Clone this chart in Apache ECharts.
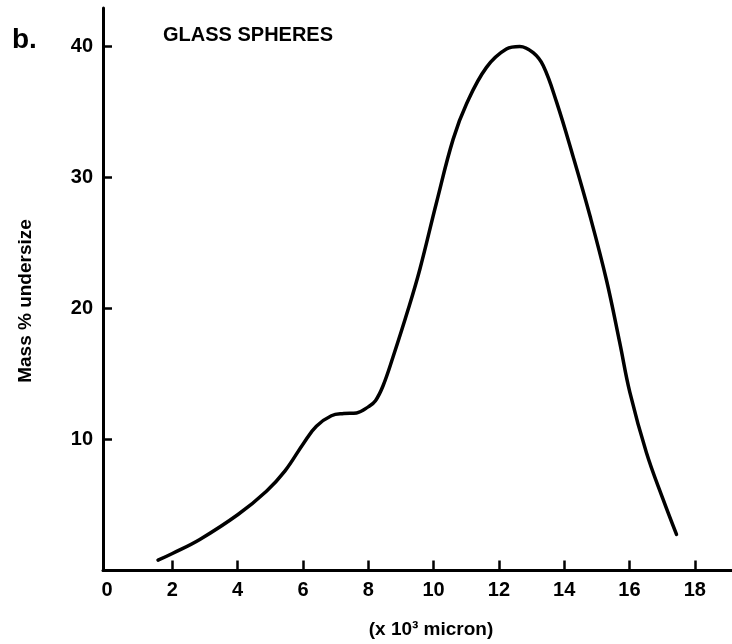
<!DOCTYPE html>
<html>
<head>
<meta charset="utf-8">
<script src="https://cdn.jsdelivr.net/npm/echarts@6/dist/echarts.min.js"></script>
<style>
  html, body { margin: 0; padding: 0; background: #fff; }
  #chart { width: 732px; height: 644px; }
</style>
</head>
<body>
<div id="chart"></div>
<script>
// Particle size (x 10^3 micron) and mass % undersize for the glass spheres sample
var sizeValues = [1.56, 2.0, 2.84, 4.01, 4.88, 5.45, 6.03, 6.41, 6.87, 7.25, 7.64, 8.01, 8.22, 8.45, 8.76, 9.22, 9.58, 10.09, 10.6, 11.01, 11.62, 12.23, 12.64, 13.05, 13.36, 13.77, 14.27, 14.79, 15.3, 15.7, 16.01, 16.52, 17.03, 17.44];
var massValues = [0.79, 1.30, 2.37, 4.27, 6.05, 7.6, 9.75, 11.0, 11.8, 11.97, 12.02, 12.5, 12.95, 14.07, 16.3, 19.9, 22.98, 28.07, 32.9, 35.6, 38.37, 39.77, 39.97, 39.5, 38.5, 35.7, 31.6, 27.05, 22.1, 17.4, 13.6, 8.98, 5.42, 2.75];

// Axis tick marks and labels
var xTickValues = [2, 4, 6, 8, 10, 12, 14, 16, 18];
var xLabelValues = [0, 2, 4, 6, 8, 10, 12, 14, 16, 18];
var yTickValues = [10, 20, 30, 40];

var panelLabel = 'b.';
var sampleTitle = 'GLASS SPHERES';
var yAxisTitle = 'Mass % undersize';
var xAxisTitle = '(x 10\u00B3 micron)';

var FONT = '"Liberation Sans", Arial, sans-serif';

var curve = sizeValues.map(function (x, i) { return [x, massValues[i]]; });

var chart = echarts.init(document.getElementById('chart'), null, { renderer: 'canvas' });

chart.setOption({
  backgroundColor: '#ffffff',
  animation: false,
  grid: { left: 103, right: 0, top: 8, bottom: 73.5, containLabel: false },
  xAxis: {
    type: 'value',
    min: -0.125,
    max: 19.14,
    axisLine: { show: true, onZero: false, lineStyle: { color: '#000', width: 3 } },
    axisTick: { show: true, inside: true, length: 10, customValues: xTickValues,
      lineStyle: { color: '#000', width: 2.5 } },
    axisLabel: { show: true, customValues: xLabelValues, margin: 10, color: '#000',
      fontFamily: FONT, fontWeight: 'bold', fontSize: 20 },
    splitLine: { show: false }
  },
  yAxis: {
    type: 'value',
    min: 0,
    max: 42.9,
    axisLine: { show: true, onZero: false, lineStyle: { color: '#000', width: 3 } },
    axisTick: { show: true, inside: true, length: 9, customValues: yTickValues,
      lineStyle: { color: '#000', width: 2.5 } },
    axisLabel: { show: true, customValues: yTickValues, margin: 10, color: '#000',
      fontFamily: FONT, fontWeight: 'bold', fontSize: 20 },
    splitLine: { show: false }
  },
  graphic: [
    { type: 'text', x: 12, y: 40, style: { text: panelLabel, fill: '#000',
        font: 'bold 28px ' + FONT, textAlign: 'left', textVerticalAlign: 'middle' } },
    { type: 'text', x: 163, y: 35, style: { text: sampleTitle, fill: '#000',
        font: 'bold 20px ' + FONT, textAlign: 'left', textVerticalAlign: 'middle' } },
    { type: 'text', x: 26, y: 301, rotation: Math.PI / 2, style: { text: yAxisTitle, fill: '#000',
        font: 'bold 19px ' + FONT, textAlign: 'center', textVerticalAlign: 'middle' } },
    { type: 'text', x: 431, y: 630, style: { text: xAxisTitle, fill: '#000',
        font: 'bold 19px ' + FONT, textAlign: 'center', textVerticalAlign: 'middle' } }
  ],
  series: [{
    type: 'line',
    data: curve,
    smooth: 0.4,
    symbol: 'none',
    clip: false,
    lineStyle: { color: '#000', width: 3.5, cap: 'round', join: 'round' }
  }]
});
</script>
</body>
</html>
